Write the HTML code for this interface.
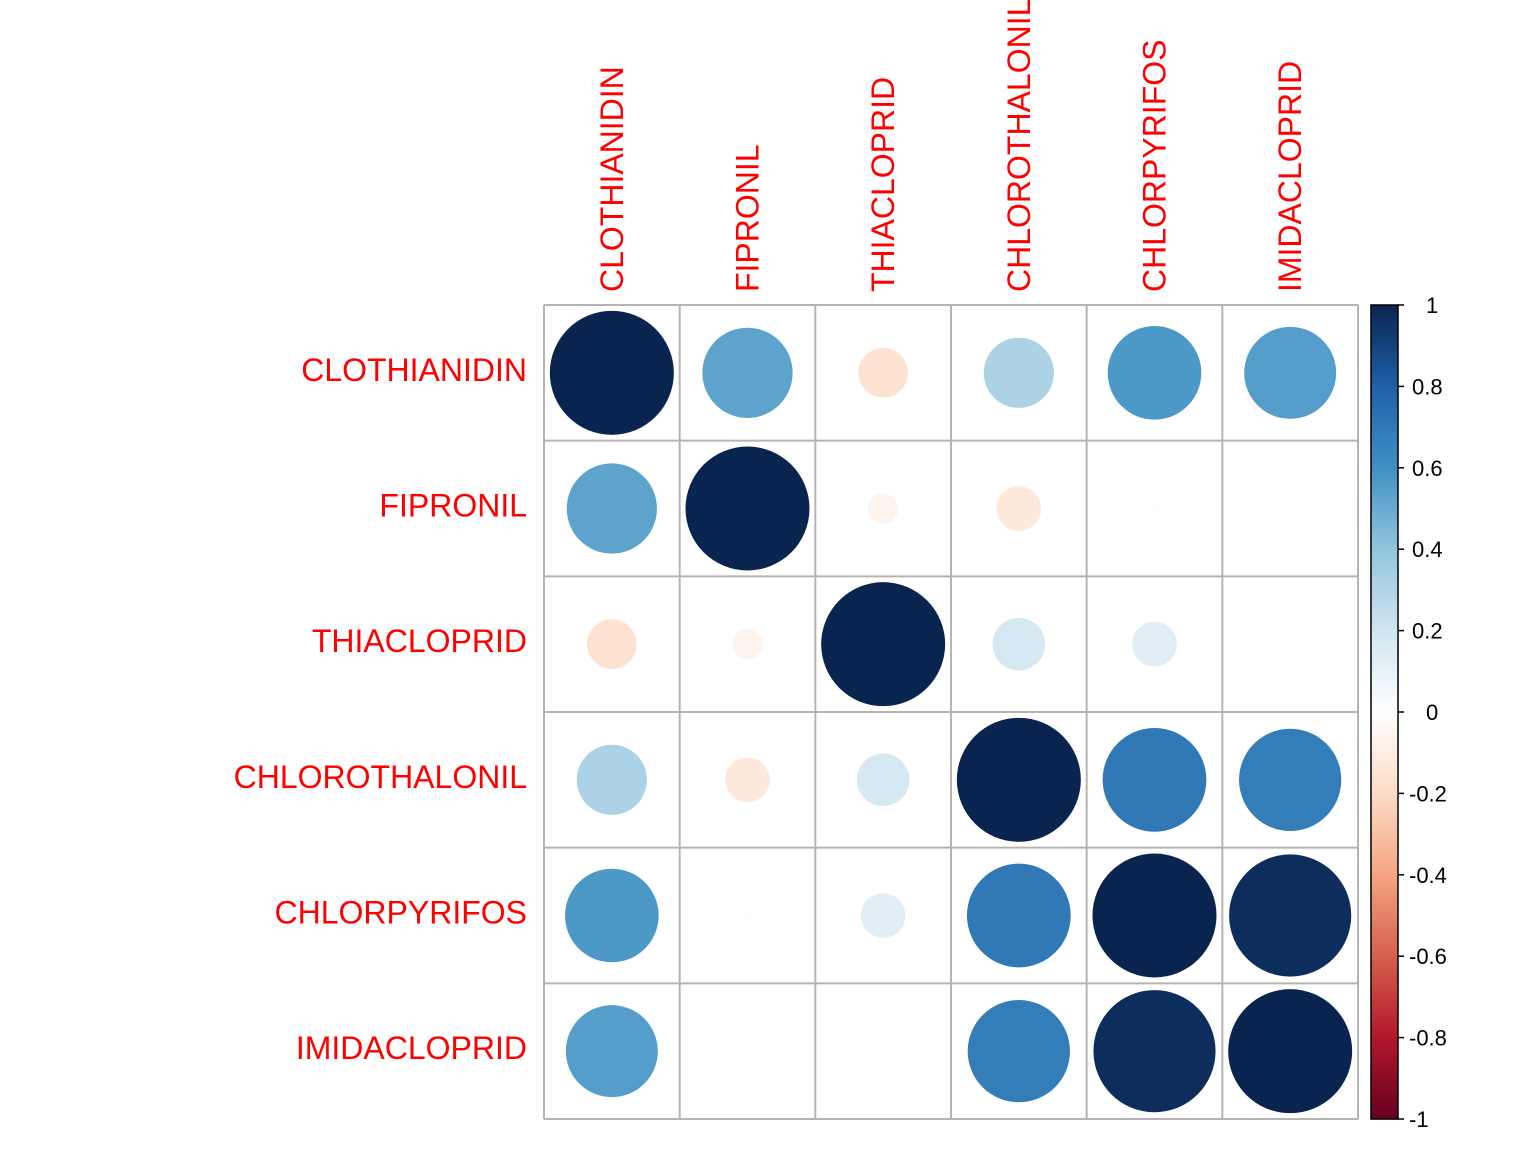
<!DOCTYPE html>
<html><head><meta charset="utf-8"><style>
html,body{margin:0;padding:0;background:#fff;}
svg{display:block;font-family:"Liberation Sans",Arial,sans-serif;}
</style></head><body>
<svg id="chart" width="1536" height="1152" viewBox="0 0 1536 1152"></svg>
<script>
const labels=["CLOTHIANIDIN","FIPRONIL","THIACLOPRID","CHLOROTHALONIL","CHLORPYRIFOS","IMIDACLOPRID"];
const corrRow0=[1,0.53,-0.16,0.32,0.57,0.55];
const corrRow1=[0.53,1,-0.06,-0.13,0.005,0.003];
const corrRow2=[-0.16,-0.06,1,0.18,0.13,0.002];
const corrRow3=[0.32,-0.13,0.18,1,0.70,0.68];
const corrRow4=[0.57,0.005,0.13,0.70,1,0.97];
const corrRow5=[0.55,0.003,0.002,0.68,0.97,1];
const matrix=[corrRow0,corrRow1,corrRow2,corrRow3,corrRow4,corrRow5];
const barTicks=[1,0.8,0.6,0.4,0.2,0,-0.2,-0.4,-0.6,-0.8,-1];
const barTickLabels=["1","0.8","0.6","0.4","0.2","0","-0.2","-0.4","-0.6","-0.8","-1"];

const NS="http://www.w3.org/2000/svg";
const svg=document.getElementById('chart');
const gx0=544,gy0=305,gx1=1358,gy1=1119;
const n=labels.length, cw=(gx1-gx0)/n, ch=(gy1-gy0)/n;
const maxR=62;
const stops=["#67001F","#B2182B","#D6604D","#F4A582","#FDDBC7","#FFFFFF","#D1E5F0","#92C5DE","#4090C3","#1F60A8","#0A2450"];
function hex(h){return [1,3,5].map(i=>parseInt(h.substr(i,2),16));}
function color(v){
  const t=(Math.max(-1,Math.min(1,v))+1)/2*(stops.length-1);
  const i=Math.min(stops.length-2,Math.floor(t)), f=t-i;
  const a=hex(stops[i]), b=hex(stops[i+1]);
  return "rgb("+a.map((x,k)=>Math.round(x+(b[k]-x)*f)).join(",")+")";
}
function el(tag,attrs){const e=document.createElementNS(NS,tag);for(const k in attrs)e.setAttribute(k,attrs[k]);svg.appendChild(e);return e;}
function xCol(j){return gx0+(j+0.5)*cw;}
function yRow(i){return gy0+(i+0.5)*ch;}
function barY(v){return gy0+(1-v)/2*(gy1-gy0);}

for(let i=0;i<n;i++)for(let j=0;j<n;j++){
  const v=matrix[i][j];
  const c=el('circle',{cx:xCol(j),cy:yRow(i),r:maxR*Math.sqrt(Math.abs(v)),fill:color(v)});
  
  
}
for(let k=0;k<=n;k++){
  const v=el('line',{x1:gx0+k*cw,y1:gy0,x2:gx0+k*cw,y2:gy1,stroke:"#b4b4b4","stroke-width":2});
  
  
  const h=el('line',{x1:gx0,y1:gy0+k*ch,x2:gx1,y2:gy0+k*ch,stroke:"#b4b4b4","stroke-width":2});
  
  
}
labels.forEach((l,i)=>{
  const t=el('text',{x:527,y:yRow(i)+8,"text-anchor":"end","font-size":32,fill:"#ff0000"});
  t.textContent=l;
  
  
  const c=el('text',{x:0,y:0,"text-anchor":"start","font-size":32,fill:"#ff0000",transform:"translate("+(xCol(i)+11)+",292) rotate(-90)"});
  c.textContent=l;
  
  
});
const bx=1371,bw=27,steps=200;
for(let s=0;s<steps;s++){
  const v1=1-2*s/steps;
  const r=el('rect',{x:bx,y:barY(v1),width:bw,height:(gy1-gy0)/steps+0.6,fill:color(v1-1/steps)});
  
  
}
const fr=el('rect',{x:bx,y:gy0,width:bw,height:gy1-gy0,fill:"none",stroke:"#000","stroke-width":1.5});


barTicks.forEach((v,k)=>{
  const tk=el('line',{x1:bx+bw,y1:barY(v),x2:bx+bw+6,y2:barY(v),stroke:"#000","stroke-width":1.5});
  
  
  const t=el('text',{x:v<0?1409:(v===1||v===0?1426:1412),y:barY(v)+8,"font-size":22,fill:"#000"});
  t.textContent=barTickLabels[k];
  
  
});
</script>
</body></html>
